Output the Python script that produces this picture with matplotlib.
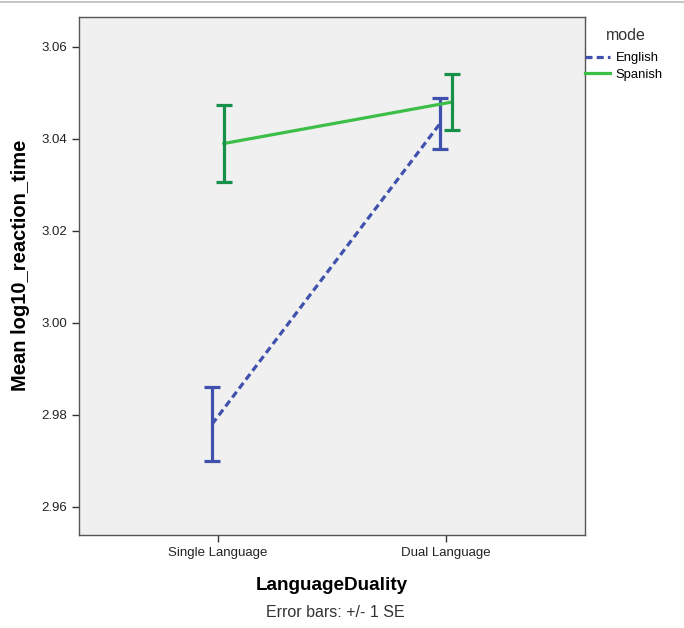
import matplotlib
matplotlib.use("Agg")
import matplotlib.pyplot as plt
import numpy as np
from matplotlib.lines import Line2D

plt.rcParams['font.family'] = ['Liberation Sans', 'DejaVu Sans']

categories = ["Single Language", "Dual Language"]
english_mean = [2.978, 3.0433]
english_se = [0.0081, 0.0055]
spanish_mean = [3.039, 3.048]
spanish_se = [0.0084, 0.006]

fig = plt.figure(figsize=(6.84, 6.28), dpi=100)
ax = fig.add_axes([0.1155, 0.148, 0.7395, 0.825])
ax.set_facecolor("#f0f0f0")

x = np.arange(len(categories))
off = 0.026
blue = "#3f51ad"
green = "#3cbf48"
dgreen = "#17914a"

ax.plot(x - off, english_mean, color=blue, lw=2.3, ls=(0, (2.2, 1.3)))
ax.errorbar(x - off, english_mean, yerr=english_se, fmt="none",
            ecolor=blue, elinewidth=2.3, capsize=5.5, capthick=2.3)
ax.plot(x + off, spanish_mean, color=green, lw=2.3)
ax.errorbar(x + off, spanish_mean, yerr=spanish_se, fmt="none",
            ecolor=dgreen, elinewidth=2.3, capsize=5.5, capthick=2.3)

ax.set_xlim(-0.61, 1.61)
ax.set_ylim(2.9539, 3.0665)
ax.set_xticks(x)
ax.set_xticklabels(categories)
ax.set_yticks([2.96, 2.98, 3.00, 3.02, 3.04, 3.06])
ax.set_yticklabels(["2.96", "2.98", "3.00", "3.02", "3.04", "3.06"])
ax.tick_params(labelsize=9.5, length=5, width=1, color="#333333", labelcolor="#222222")
for s in ax.spines.values():
    s.set_color("#555555")
    s.set_linewidth(1)

ax.set_ylabel("Mean log10_reaction_time", fontsize=14.5, fontweight="bold")
ax.yaxis.set_label_coords(-0.097, 0.521)
ax.set_xlabel("LanguageDuality", fontsize=13.6, fontweight="bold", labelpad=13)

# legend title drawn separately (SPSS puts a bigger gap under it)
fig.text(606 / 684, 1 - 35 / 628, "mode", ha="left", va="center", fontsize=11.5, color="#333333")
handles = [Line2D([0], [0], color=blue, lw=2.3, ls=(0, (2.2, 1.3))),
           Line2D([0], [0], color=green, lw=2.3)]
leg = fig.legend(handles, ["English", "Spanish"],
                 loc="upper left", bbox_to_anchor=(585 / 684, 1 - 52 / 628),
                 frameon=False, fontsize=9.4,
                 handlelength=1.9, handletextpad=0.45, labelspacing=0.35,
                 borderaxespad=0, borderpad=0)

fig.text(0.49, 0.0125, "Error bars: +/- 1 SE", ha="center", va="bottom", fontsize=11.5, color="#333333")
fig.add_artist(Line2D([0, 1], [0.997, 0.997], color="#bbbbbb", lw=1.2, transform=fig.transFigure))

fig.savefig("out.png", dpi=100)
